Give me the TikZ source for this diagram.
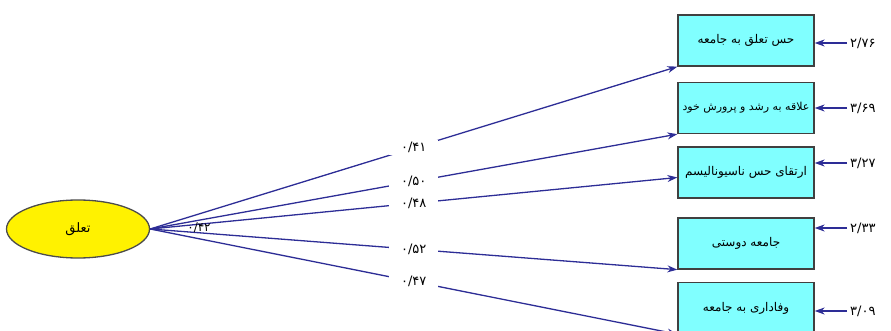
\documentclass[tikz,border=0pt]{standalone}
\usepackage{fontspec}
\newfontfamily\farsi[Script=Arabic]{DejaVu Sans}
\TeXXeTstate=1
\usetikzlibrary{shapes.geometric,arrows.meta}
\definecolor{pathblue}{RGB}{45,45,150}
\definecolor{boxcyan}{RGB}{128,255,255}

\begin{document}
\begin{tikzpicture}[x=1pt,y=-1pt,
    latentnode/.style={ellipse,draw=black!70,line width=1.3pt,fill=yellow,
      minimum width=143pt,minimum height=58pt,font=\farsi\fontsize{13}{15}\selectfont},
    obsbox/.style={rectangle,draw=black!75,line width=1.3pt,fill=boxcyan,
      minimum width=136pt,minimum height=51pt,inner sep=1pt,font=\farsi\fontsize{12}{14}\selectfont},
    loading/.style={draw=pathblue,line width=1.3pt,-{Stealth[length=10pt,width=7pt]}},
    errarrow/.style={draw=pathblue,line width=1.4pt,-{Stealth[length=10pt,width=7pt]}},
    coef/.style={fill=white,inner xsep=12pt,inner ysep=2pt,font=\farsi\fontsize{13}{15}\selectfont},
    errval/.style={anchor=west,inner sep=3pt,font=\farsi\fontsize{13}{15}\selectfont}]
  \useasboundingbox (0,0) rectangle (891,331);

  % latent variable
  \node[latentnode] (latent) at (78,229) {\beginR تعلق\endR};

  % observed variables
  \node[obsbox] (b1) at (746,40.5) {\beginR حس تعلق به جامعه\endR};
  \node[obsbox,font=\farsi\fontsize{11}{13}\selectfont] (b2) at (746,108) {\beginR علاقه به رشد و پرورش خود\endR};
  \node[obsbox] (b3) at (746,172.5) {\beginR ارتقای حس ناسیونالیسم\endR};
  \node[obsbox] (b4) at (746,243.5) {\beginR جامعه دوستی\endR};
  \node[obsbox] (b5) at (746,308) {\beginR وفاداری به جامعه\endR};

  % loadings
  \draw[loading] (latent.east) -- node[coef] {۰/۴۱} (b1.south west);
  \draw[loading] (latent.east) -- node[coef] {۰/۵۰} (b2.south west);
  \draw[loading] (latent.east) -- node[coef] {۰/۴۸} ([yshift=-5pt]b3.west);
  \draw[loading] (latent.east) -- node[coef] {۰/۵۲} (b4.south west);
  \draw[loading] (latent.east) -- node[coef] {۰/۴۷} (b5.south west);
  \node[font=\farsi\fontsize{12}{14}\selectfont,inner sep=1pt] (c0) at (199,228) {۰/۴۲};

  % error terms
  \coordinate (e1) at (847,43);
  \coordinate (e2) at (847,108);
  \coordinate (e3) at (847,163);
  \coordinate (e4) at (847,228);
  \coordinate (e5) at (847,311);
  \draw[errarrow] (e1) -- (e1 -| b1.east);
  \draw[errarrow] (e2) -- (e2 -| b2.east);
  \draw[errarrow] (e3) -- (e3 -| b3.east);
  \draw[errarrow] (e4) -- (e4 -| b4.east);
  \draw[errarrow] (e5) -- (e5 -| b5.east);
  \node[errval] (v1) at (e1) {۲/۷۶};
  \node[errval] (v2) at (e2) {۳/۶۹};
  \node[errval] (v3) at (e3) {۳/۲۷};
  \node[errval] (v4) at (e4) {۲/۳۳};
  \node[errval] (v5) at (e5) {۳/۰۹};
\end{tikzpicture}
\end{document}
